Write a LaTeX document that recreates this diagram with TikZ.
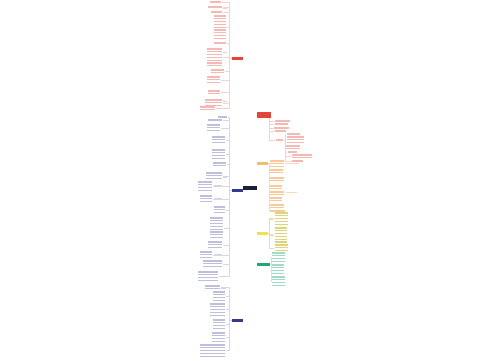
\documentclass[tikz,border=0pt]{standalone}
\usetikzlibrary{positioning, backgrounds}

\definecolor{maproot}{HTML}{1E1F3F}
\definecolor{mapred}{HTML}{E2453C}
\definecolor{mapblue}{HTML}{34398F}
\definecolor{maporange}{HTML}{F2BE72}
\definecolor{mapyellow}{HTML}{F4E04D}
\definecolor{mapgreen}{HTML}{1FA67A}

\begin{document}
\begin{tikzpicture}[
    x=1pt, y=-1pt,
    main_style/.style={rectangle, inner sep=0pt, minimum width=11pt, minimum height=3pt},
    trunk_style/.style={gray!35, line width=0.4pt},
    red_line/.style={mapred!38},
    blue_line/.style={mapblue!32},
    orange_line/.style={orange!80!brown!42},
    yellow_line/.style={olive!70!yellow!45},
    green_line/.style={mapgreen!42},
    red_label/.style={mapred!28},
    blue_label/.style={mapblue!22},
    orange_label/.style={orange!80!brown!30},
    yellow_label/.style={olive!70!yellow!32},
    red_link/.style={mapred!25, line width=0.3pt},
    blue_link/.style={mapblue!20, line width=0.3pt},
    orange_link/.style={orange!30, line width=0.3pt},
    yellow_link/.style={olive!25, line width=0.3pt},
    green_link/.style={mapgreen!25, line width=0.3pt}
]
    \fill[white] (0,0) rectangle (500,360);
    \useasboundingbox (0,0) rectangle (500,360);

    % Main nodes
    \node[main_style, fill=maproot, minimum width=14pt, minimum height=4pt] (root) at (250,188) {};
    \node[main_style, fill=mapred] (L1) at (237.5,58) {};
    \node[main_style, fill=mapblue] (L2) at (237.5,190) {};
    \node[main_style, fill=mapblue] (L3) at (237.5,320) {};
    \node[main_style, fill=mapred, minimum width=14pt, minimum height=6pt] (R1) at (263.5,115) {};
    \node[main_style, fill=maporange] (R2) at (262.5,163) {};
    \node[main_style, fill=mapyellow] (R3) at (262.5,233) {};
    \node[main_style, fill=mapgreen, minimum width=13pt] (R4) at (263.5,264) {};

    \coordinate (lt) at (245,188);
    \coordinate (rt) at (254,188);

    \begin{scope}[on background layer]
        \foreach \n in {L1,L2,L3}
            \draw[trunk_style] (lt) |- (\n.east);
        \foreach \n in {R1,R2,R3,R4}
            \draw[trunk_style] (rt) |- (\n.west);
    \end{scope}

    % Left red branch
    \foreach \y/\a/\b/\n [count=\i] in {2/210/221/1, 7/208/222/1, 12/211/222/1, 16/214/226/9,
        43/214/226/1, 49/207/222/7, 70/211/224/2, 77/207/220/3, 91/208/220/2,
        100/205/222/3, 107/200/215/2}{
        \foreach \k in {1,...,\n}
            \fill[red_line] (\a,{\y+2.8*(\k-1)-0.55}) rectangle (\b,{\y+2.8*(\k-1)+0.55});
        \coordinate (lr\i) at ({\b+0.8},{\y+1.4*(\n-1)});
        \draw[red_link] (L1.west) -- ++(-3,0) |- (lr\i);
    }
    \foreach \y/\a/\b in {8/223/227, 52/223/227, 92/221/226, 101/223/227, 108/216/225}
        \fill[red_label] (\a,{\y-0.5}) rectangle (\b,{\y+0.5});

    % Left blue branches
    \foreach \y/\a/\b/\n [count=\i] in {117/218/227/1, 120/208/222/1, 125/207/220/3,
        137/212/225/3, 150/212/225/4, 163/213/226/2, 173/206/222/3, 182/198/212/4,
        196/200/212/3, 207/214/225/3, 218/210/223/8, 242/208/222/3, 252/200/212/3,
        261/203/222/3, 272/198/218/4}{
        \foreach \k in {1,...,\n}
            \fill[blue_line] (\a,{\y+2.8*(\k-1)-0.55}) rectangle (\b,{\y+2.8*(\k-1)+0.55});
        \coordinate (lb\i) at ({\b+0.8},{\y+1.4*(\n-1)});
        \draw[blue_link] (L2.west) -- ++(-3,0) |- (lb\i);
    }
    \foreach \y/\a/\b/\n [count=\i] in {286/205/220/2, 292/213/225/4, 304/210/225/5,
        320/213/225/4, 333/212/225/4, 345/200/225/5}{
        \foreach \k in {1,...,\n}
            \fill[blue_line] (\a,{\y+2.8*(\k-1)-0.55}) rectangle (\b,{\y+2.8*(\k-1)+0.55});
        \coordinate (lc\i) at ({\b+0.8},{\y+1.4*(\n-1)});
        \draw[blue_link] (L3.west) -- ++(-3,0) |- (lc\i);
    }
    \foreach \y/\a/\b in {185/214/222, 198/214/222, 254/214/222, 177/223/227, 288/221/226}
        \fill[blue_label] (\a,{\y-0.5}) rectangle (\b,{\y+0.5});

    % Right red branch
    \foreach \y/\a/\b/\n [count=\i] in {121/275/290/1, 124/275/288/1, 128/274/289/1,
        131/275/286/1, 140/276/283/1}{
        \foreach \k in {1,...,\n}
            \fill[red_line] (\a,{\y+2.8*(\k-1)-0.55}) rectangle (\b,{\y+2.8*(\k-1)+0.55});
        \coordinate (rr\i) at ({\a-0.8},{\y+1.4*(\n-1)});
        \draw[red_link] ([xshift=-2pt]R1.south east) |- (rr\i);
    }
    \coordinate (rk) at (284,140);
    \foreach \y/\a/\b/\n [count=\i] in {134/287/300/1, 137/287/304/3, 146/286/300/2,
        152/288/297/1, 155/292/312/2, 161/292/303/1}{
        \foreach \k in {1,...,\n}
            \fill[red_line] (\a,{\y+2.8*(\k-1)-0.55}) rectangle (\b,{\y+2.8*(\k-1)+0.55});
        \coordinate (rs\i) at ({\a-0.8},{\y+1.4*(\n-1)});
        \draw[red_link] (rk) -- ++(1,0) |- (rs\i);
    }
    \foreach \y in {121,124,128,140}
        \fill[red_label] (269,{\y-0.5}) rectangle (273,{\y+0.5});

    % Right orange branch
    \foreach \y/\a/\b/\n [count=\i] in {161/270/284/3, 170/270/283/2, 178/270/284/2,
        186/270/282/2, 192/270/284/2, 198/270/282/2, 205/270/284/2, 211/270/285/1}{
        \foreach \k in {1,...,\n}
            \fill[orange_line] (\a,{\y+2.8*(\k-1)-0.55}) rectangle (\b,{\y+2.8*(\k-1)+0.55});
        \coordinate (ro\i) at ({\a-0.8},{\y+1.4*(\n-1)});
        \draw[orange_link] (R2.east) -- ++(1,0) |- (ro\i);
    }
    \foreach \y/\a/\b in {163/286/299, 192/286/297}
        \fill[orange_label] (\a,{\y-0.5}) rectangle (\b,{\y+0.5});

    % Right yellow branch
    \foreach \y/\a/\b/\n [count=\i] in {213/275/288/5, 228/275/287/6, 245/275/288/3}{
        \foreach \k in {1,...,\n}
            \fill[yellow_line] (\a,{\y+2.8*(\k-1)-0.55}) rectangle (\b,{\y+2.8*(\k-1)+0.55});
        \coordinate (ry\i) at ({\a-0.8},{\y+1.4*(\n-1)});
        \draw[yellow_link] (R3.east) -- ++(1,0) |- (ry\i);
    }
    \foreach \y in {219,234,248}
        \fill[yellow_label] (269,{\y-0.5}) rectangle (273,{\y+0.5});

    % Right green branch
    \foreach \y/\a/\b/\n [count=\i] in {253/272/285/4, 265/272/284/4, 277/272/285/4}{
        \foreach \k in {1,...,\n}
            \fill[green_line] (\a,{\y+2.8*(\k-1)-0.55}) rectangle (\b,{\y+2.8*(\k-1)+0.55});
        \coordinate (rg\i) at ({\a-0.8},{\y+1.4*(\n-1)});
        \draw[green_link] (R4.east) -- ++(0.8,0) |- (rg\i);
    }
\end{tikzpicture}
\end{document}
